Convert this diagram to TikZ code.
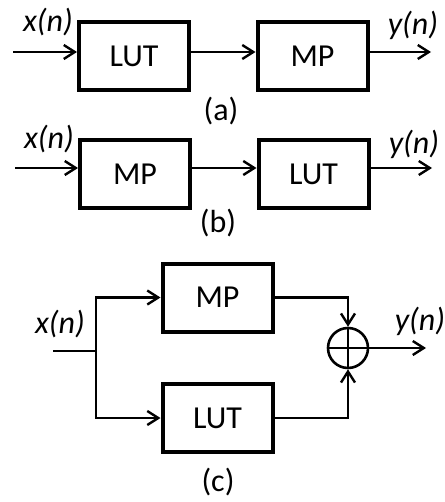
\documentclass[tikz,border=0pt]{standalone}
\usepackage{fontspec}
\setmainfont{Carlito}
\usepackage{tikz}
\usetikzlibrary{positioning, arrows.meta, calc}

\begin{document}
\begin{tikzpicture}[
    x=0.5pt, y=-0.5pt,
    every node/.style={font=\fontsize{16}{19}\selectfont},
    block/.style={draw, rectangle, line width=2pt, minimum width=55pt, minimum height=34pt, inner sep=0pt},
    sumnode/.style={draw, circle, line width=1.3pt, minimum size=20pt, inner sep=0pt},
    wire/.style={line width=1.2pt},
    sig/.style={wire, -{Straight Barb[length=5.5pt, width=7pt]}},
    signame/.style={font=\fontsize{16}{19}\selectfont\itshape, inner sep=0pt},
    caption/.style={inner sep=0pt}
]
\useasboundingbox (0,0) rectangle (444,502);

% (a): LUT followed by MP
\node[block] (lutA) at (134,56) {LUT};
\node[block] (mpA) at (312.5,56) {MP};
\coordinate (inA) at (13,52);
\coordinate (outA) at (431,52);
\node[signame] (xA) at (48,22) {x(n)};
\node[signame] (yA) at (413,25) {y(n)};
\draw[sig] (inA) -- ([yshift=2pt]lutA.west);
\draw[sig] ([yshift=2pt]lutA.east) -- ([yshift=2pt]mpA.west);
\draw[sig] ([yshift=2pt]mpA.east) -- (outA);
\node[caption] (capA) at (221,111) {(a)};

% (b): MP followed by LUT
\node[block] (mpB) at (135,174) {MP};
\node[block] (lutB) at (313.5,174) {LUT};
\coordinate (inB) at (15,168);
\coordinate (outB) at (432,168);
\node[signame] (xB) at (49,139) {x(n)};
\node[signame] (yB) at (414,144) {y(n)};
\draw[sig] (inB) -- ([yshift=3pt]mpB.west);
\draw[sig] ([yshift=3pt]mpB.east) -- ([yshift=3pt]lutB.west);
\draw[sig] ([yshift=3pt]lutB.east) -- (outB);
\node[caption] (capB) at (218,223.5) {(b)};

% (c): MP and LUT in parallel
\node[block] (mpC) at (217.5,297.5) {MP};
\node[block] (lutC) at (217.5,418) {LUT};
\node[sumnode] (sum) at (348,348) {};
\coordinate (inC) at (53,351);
\coordinate (split) at (96,351);
\coordinate (outC) at (426,348);
\node[signame] (xC) at (60,324) {x(n)};
\node[signame] (yC) at (420,321) {y(n)};
\draw[wire] (inC) -- (split);
\draw[sig] (split) |- (mpC.west);
\draw[sig] (split) |- (lutC.west);
\draw[sig] (mpC.east) -| (sum.north);
\draw[sig] (lutC.east) -| (sum.south);
\draw[wire] (sum.north) -- (sum.south);
\draw[wire] (sum.west) -- (sum.east);
\draw[sig] (sum.east) -- (outC);
\node[caption] (capC) at (218,482) {(c)};

\end{tikzpicture}
\end{document}
